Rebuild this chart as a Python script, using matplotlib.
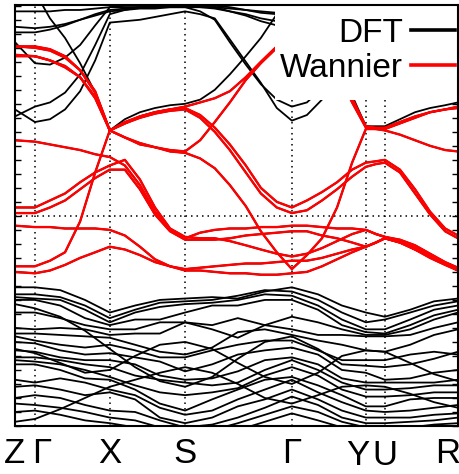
import numpy as np
import matplotlib.pyplot as plt
from matplotlib.patches import Rectangle
from matplotlib.transforms import ScaledTranslation

plt.rcParams['font.family'] = ['Liberation Sans', 'DejaVu Sans']

# high symmetry points along the path
kpath = [0.0, 0.045, 0.214, 0.384, 0.625, 0.792, 0.835, 1.0]
klabels = ['Z', 'Γ', 'X', 'S', 'Γ', 'Y', 'U', 'R']

# k grid for the bands near the Fermi level
k_fine = [0.0, 0.045, 0.079, 0.113, 0.147, 0.181, 0.214, 0.248, 0.282, 0.316,
          0.350, 0.384, 0.418, 0.451, 0.485, 0.521, 0.555, 0.591, 0.625, 0.659,
          0.693, 0.727, 0.761, 0.792, 0.815, 0.835, 0.869, 0.903, 0.937, 0.971, 1.0]

# coarser k grid for the deep valence bands
k_val = [0.0, 0.045, 0.102, 0.158, 0.214, 0.271, 0.327, 0.384, 0.445, 0.503,
         0.564, 0.625, 0.684, 0.738, 0.792, 0.835, 0.892, 0.946, 1.0]

# Wannier interpolated bands (eV), on k_fine
wannier = [
    [1.21, 1.21, 1.19, 1.14, 1.04, 0.89, 0.61, 0.67, 0.71, 0.74, 0.76, 0.78, 0.81, 0.84, 0.89, 0.99,
     1.10, 1.21, 1.31, 1.33, 1.26, 1.10, 0.84, 0.64, 0.63, 0.63, 0.67, 0.71, 0.74, 0.76, 0.78],
    [1.21, 1.20, 1.18, 1.13, 1.04, 0.88, 0.61, 0.66, 0.71, 0.74, 0.76, 0.77, 0.72, 0.63, 0.51, 0.36,
     0.20, 0.10, 0.06, 0.11, 0.17, 0.24, 0.33, 0.38, 0.39, 0.40, 0.33, 0.19, 0.03, -0.09, -0.14],
    [1.15, 1.14, 1.11, 1.07, 0.99, 0.85, 0.61, 0.56, 0.52, 0.49, 0.47, 0.46, 0.54, 0.67, 0.81, 0.97,
     1.09, 1.20, 1.29, 1.29, 1.21, 1.04, 0.81, 0.63, 0.62, 0.62, 0.66, 0.70, 0.74, 0.76, 0.77],
    [1.14, 1.14, 1.11, 1.06, 0.99, 0.84, 0.61, 0.56, 0.51, 0.49, 0.46, 0.45, 0.41, 0.34, 0.22, 0.07,
     -0.11, -0.26, -0.38, -0.28, -0.16, 0.06, 0.38, 0.62, 0.62, 0.61, 0.58, 0.54, 0.50, 0.47, 0.46],
    [-0.36, -0.36, -0.32, -0.26, -0.04, 0.31, 0.61, 0.66, 0.70, 0.73, 0.75, 0.76, 0.70, 0.60, 0.47, 0.31,
     0.16, 0.06, 0.02, 0.04, 0.11, 0.19, 0.28, 0.35, 0.37, 0.38, 0.31, 0.16, 0.01, -0.11, -0.16],
    [0.54, 0.53, 0.51, 0.49, 0.47, 0.44, 0.42, 0.36, 0.22, 0.03, -0.10, -0.16, -0.12, -0.10, -0.09, -0.09,
     -0.08, -0.08, -0.07, -0.07, -0.08, -0.09, -0.09, -0.10, -0.13, -0.15, -0.17, -0.21, -0.27, -0.33, -0.37],
    [0.06, 0.06, 0.11, 0.16, 0.24, 0.31, 0.36, 0.40, 0.26, 0.06, -0.09, -0.15, -0.16, -0.16, -0.18, -0.21,
     -0.24, -0.27, -0.29, -0.27, -0.23, -0.18, -0.13, -0.10, -0.13, -0.15, -0.18, -0.22, -0.28, -0.34, -0.38],
    [0.02, 0.02, 0.06, 0.11, 0.19, 0.27, 0.33, 0.33, 0.19, 0.01, -0.11, -0.17, -0.17, -0.17, -0.16, -0.14,
     -0.13, -0.12, -0.11, -0.11, -0.14, -0.16, -0.19, -0.22, -0.19, -0.16, -0.19, -0.23, -0.29, -0.34, -0.39],
    [-0.07, -0.08, -0.08, -0.09, -0.09, -0.09, -0.10, -0.14, -0.22, -0.31, -0.36, -0.38, -0.37, -0.36, -0.35, -0.34,
     -0.34, -0.33, -0.32, -0.32, -0.30, -0.27, -0.24, -0.22, -0.19, -0.16, -0.19, -0.24, -0.29, -0.34, -0.39],
    [-0.40, -0.41, -0.39, -0.35, -0.30, -0.26, -0.22, -0.24, -0.28, -0.33, -0.36, -0.39, -0.39, -0.40, -0.41, -0.41,
     -0.42, -0.42, -0.41, -0.40, -0.36, -0.31, -0.26, -0.22, -0.19, -0.16, -0.19, -0.24, -0.30, -0.35, -0.39],
]

# DFT conduction bands outside the Wannier window (eV), on k_fine
dft_cond = [
    [1.76, 1.60, 1.41, 1.27, 1.09, 0.88, 0.61, 0.69, 0.74, 0.77, 0.79, 0.80, 0.83, 0.90, 1.01, 1.14,
     1.27, 1.44, 1.58, 1.61, 1.47, 1.19, 0.86, 0.64, 0.64, 0.64, 0.69, 0.74, 0.77, 0.79, 0.81],
    [0.71, 0.78, 0.81, 0.88, 1.01, 1.22, 1.44, 1.47, 1.49, 1.49, 1.49, 1.49, 1.46, 1.40, 1.24, 1.08,
     0.94, 0.83, 0.78, 0.81, 0.91, 1.11, 1.26, 1.40, 1.44, 1.44, 1.46, 1.47, 1.47, 1.47, 1.47],
    [0.76, 0.67, 0.69, 0.76, 0.89, 1.11, 1.38, 1.39, 1.40, 1.42, 1.44, 1.46, 1.44, 1.41, 1.26, 1.10,
     0.95, 0.77, 0.68, 0.72, 0.83, 1.01, 1.19, 1.33, 1.36, 1.36, 1.39, 1.40, 1.41, 1.42, 1.42],
    [1.24, 1.09, 1.08, 1.13, 1.22, 1.36, 1.49, 1.50, 1.50, 1.50, 1.50, 1.50, 1.49, 1.49, 1.46, 1.43,
     1.39, 1.36, 1.34, 1.36, 1.38, 1.40, 1.41, 1.42, 1.42, 1.43, 1.44, 1.45, 1.45, 1.46, 1.46],
    [1.35, 1.34, 1.35, 1.37, 1.40, 1.43, 1.46, 1.47, 1.48, 1.48, 1.49, 1.49, 1.49, 1.48, 1.46, 1.44,
     1.41, 1.39, 1.38, 1.38, 1.39, 1.40, 1.41, 1.42, 1.43, 1.43, 1.44, 1.45, 1.45, 1.46, 1.46],
    [1.31, 1.31, 1.33, 1.36, 1.40, 1.44, 1.47, 1.48, 1.49, 1.49, 1.50, 1.50, 1.50, 1.50, 1.49, 1.47,
     1.45, 1.44, 1.43, 1.44, 1.45, 1.45, 1.46, 1.47, 1.47, 1.47, 1.48, 1.48, 1.48, 1.48, 1.48],
    [1.46, 1.46, 1.46, 1.47, 1.47, 1.48, 1.49, 1.49, 1.49, 1.49, 1.49, 1.49, 1.49, 1.49, 1.48, 1.47,
     1.46, 1.45, 1.45, 1.46, 1.46, 1.47, 1.47, 1.47, 1.48, 1.48, 1.48, 1.48, 1.48, 1.48, 1.48],
]

# DFT valence bands (eV), on k_val
dft_val = [
    [-0.51, -0.51, -0.53, -0.60, -0.69, -0.64, -0.60, -0.59, -0.58, -0.59, -0.54, -0.51, -0.56, -0.64, -0.69, -0.72, -0.67, -0.61, -0.59],
    [-0.56, -0.56, -0.58, -0.64, -0.73, -0.67, -0.62, -0.61, -0.60, -0.57, -0.53, -0.54, -0.60, -0.69, -0.76, -0.74, -0.69, -0.64, -0.61],
    [-0.58, -0.59, -0.60, -0.67, -0.76, -0.69, -0.65, -0.63, -0.62, -0.60, -0.56, -0.57, -0.64, -0.74, -0.81, -0.81, -0.74, -0.67, -0.64],
    [-0.60, -0.60, -0.64, -0.73, -0.78, -0.74, -0.74, -0.69, -0.64, -0.64, -0.60, -0.60, -0.67, -0.78, -0.83, -0.84, -0.78, -0.71, -0.67],
    [-0.69, -0.69, -0.73, -0.78, -0.81, -0.81, -0.76, -0.76, -0.81, -0.87, -0.78, -0.72, -0.76, -0.81, -0.85, -0.85, -0.81, -0.74, -0.69],
    [-0.80, -0.81, -0.80, -0.81, -0.85, -0.84, -0.84, -0.76, -0.78, -0.73, -0.78, -0.81, -0.85, -0.85, -0.86, -0.86, -0.85, -0.80, -0.76],
    [-0.84, -0.84, -0.85, -0.86, -0.87, -0.92, -0.97, -0.99, -0.94, -0.83, -0.81, -0.85, -0.89, -0.92, -0.96, -0.97, -0.92, -0.85, -0.81],
    [-0.86, -0.89, -0.92, -0.94, -0.92, -0.96, -1.01, -1.01, -0.96, -0.92, -0.89, -0.89, -0.96, -1.03, -1.03, -1.03, -0.99, -0.97, -0.99],
    [-0.90, -0.91, -0.96, -0.99, -0.98, -1.01, -1.04, -1.11, -1.06, -0.99, -0.96, -0.94, -0.99, -1.10, -1.12, -1.17, -1.16, -1.12, -1.10],
    [-0.96, -0.97, -1.01, -1.03, -1.03, -1.06, -1.14, -1.17, -1.16, -1.11, -1.03, -1.01, -1.06, -1.16, -1.19, -1.19, -1.19, -1.19, -1.17],
    [-1.01, -1.01, -1.03, -1.06, -1.08, -1.14, -1.17, -1.19, -1.21, -1.19, -1.10, -1.03, -1.10, -1.19, -1.24, -1.24, -1.23, -1.21, -1.21],
    [-1.03, -1.04, -1.06, -1.10, -1.15, -1.21, -1.26, -1.28, -1.26, -1.23, -1.14, -1.08, -1.14, -1.24, -1.29, -1.29, -1.28, -1.26, -1.26],
    [-1.06, -1.06, -1.10, -1.16, -1.17, -1.24, -1.34, -1.39, -1.31, -1.24, -1.17, -1.15, -1.21, -1.28, -1.36, -1.36, -1.31, -1.30, -1.30],
    [-1.17, -1.19, -1.16, -1.19, -1.24, -1.28, -1.37, -1.42, -1.39, -1.31, -1.24, -1.17, -1.26, -1.33, -1.39, -1.40, -1.39, -1.37, -1.35],
    [-1.22, -1.21, -1.24, -1.28, -1.26, -1.31, -1.44, -1.48, -1.44, -1.36, -1.31, -1.24, -1.31, -1.39, -1.44, -1.44, -1.44, -1.42, -1.41],
    [-1.30, -1.28, -1.30, -1.35, -1.39, -1.40, -1.46, -1.51, -1.49, -1.44, -1.37, -1.29, -1.35, -1.44, -1.48, -1.48, -1.47, -1.46, -1.44],
    [-1.34, -1.35, -1.37, -1.40, -1.44, -1.46, -1.51, -1.54, -1.53, -1.48, -1.42, -1.36, -1.40, -1.47, -1.51, -1.53, -1.51, -1.49, -1.48],
    [-1.40, -1.39, -1.42, -1.46, -1.48, -1.51, -1.54, -1.56, -1.56, -1.53, -1.47, -1.41, -1.46, -1.51, -1.54, -1.56, -1.54, -1.53, -1.51],
    [-0.63, -0.66, -0.72, -0.82, -0.95, -1.08, -1.18, -1.22, -1.15, -1.02, -0.90, -0.86, -0.95, -1.06, -1.07, -1.08, -1.06, -1.02, -0.97],
    [-1.47, -1.45, -1.38, -1.30, -1.22, -1.17, -1.12, -1.08, -1.12, -1.20, -1.30, -1.34, -1.28, -1.22, -1.21, -1.22, -1.27, -1.33, -1.37],
    [-0.95, -0.98, -1.05, -1.12, -1.10, -1.00, -0.92, -0.90, -0.95, -1.05, -1.15, -1.20, -1.12, -1.00, -0.96, -0.97, -1.05, -1.13, -1.18],
]

fig = plt.figure(figsize=(4.6, 4.74), dpi=100)
ax = fig.add_axes([0.0326, 0.1013, 0.963, 0.888])

dots = (0, (1, 2.6))
for kp in kpath[1:-1]:
    ax.axvline(kp, color='k', lw=1.1, ls=dots, zorder=1)
ax.axhline(0.0, color='k', lw=1.1, ls=dots, zorder=1)

# DFT in black
for i, band in enumerate(wannier + dft_cond):
    ax.plot(k_fine, band, color='black', lw=1.3, zorder=2,
            label='DFT' if i == 0 else None)
for band in dft_val:
    ax.plot(k_val, band, color='black', lw=1.3, zorder=2)

# Wannier in red on top
for i, band in enumerate(wannier):
    ax.plot(k_fine, band, color='red', lw=1.7, zorder=3,
            label='Wannier' if i == 0 else None)

ax.set_xlim(0, 1)
ax.set_ylim(-1.5, 1.505)
ax.set_xticks(kpath)
ax.set_xticklabels(klabels, fontsize=25)
ax.tick_params(axis='x', length=0, pad=8)
ax.set_yticks(np.arange(-1.5, 1.51, 0.1))
ax.tick_params(axis='y', which='both', direction='in', length=4, width=1,
               left=True, right=True, labelleft=False)
for sp in ax.spines.values():
    sp.set_linewidth(1.5)
    sp.set_zorder(11)

# small shifts of some labels as in the original figure
shifts = {1: (7, 0), 5: (-8, -2), 6: (0, -2), 7: (-10, 0)}
for i, lab in enumerate(ax.get_xticklabels()):
    if i in shifts:
        dx, dy = shifts[i]
        lab.set_transform(lab.get_transform() +
                          ScaledTranslation(dx / 100, dy / 100, fig.dpi_scale_trans))

# opaque key area in the upper right corner
ax.add_patch(Rectangle((0.587, 0.774), 0.413, 0.226, transform=ax.transAxes,
                       facecolor='white', edgecolor='none', zorder=9))
leg = ax.legend(loc='upper right', bbox_to_anchor=(1.0, 0.978), markerfirst=False,
                fontsize=24, frameon=False, borderaxespad=0, borderpad=0.1,
                labelspacing=0.12, handlelength=1.3, handletextpad=0.25)
for h in leg.get_lines():
    h.set_linewidth(2.6)
leg.set_zorder(10)

fig.savefig('out.png', dpi=100)
